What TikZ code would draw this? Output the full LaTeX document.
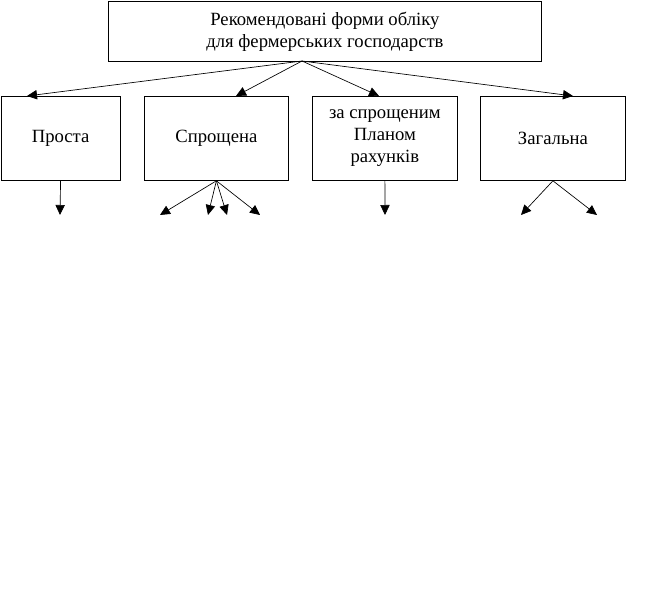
\documentclass[tikz,border=0pt]{standalone}
\usepackage{fontspec}
\setmainfont{Liberation Serif}
\usepackage{tikz}
\usetikzlibrary{arrows.meta, positioning}

\begin{document}
\begin{tikzpicture}[x=0.75pt, y=-0.75pt,
		formbox/.style={draw, line width=0.6pt, anchor=north west, minimum height=63pt,
			align=center, inner sep=0pt, font=\fontsize{14pt}{16.5pt}\selectfont},
		arr/.style={line width=0.5pt, -{Triangle[length=7.5pt, width=7pt]}}]
			\useasboundingbox (0,0) rectangle (648,588);
			\node[formbox, minimum width=324.75pt, minimum height=45pt] (top) at (108,1)
				{Рекомендовані форми обліку\\для фермерських господарств};
			\node[formbox, minimum width=89.5pt] (prosta) at (0.5,96) {Проста};
			\node[formbox, minimum width=108pt] (sproshch) at (144,96) {Спрощена};
			\node[formbox, minimum width=108.75pt] (plan) at (312,96) {за спрощеним\\Планом\\рахунків};
			\node[formbox, minimum width=108.75pt] (zag) at (480,96) {Загальна};
			% top level
			\coordinate (hub) at (302,61);
			\coordinate (t1) at (27,96);
			\coordinate (t2) at (236,96);
			\coordinate (t3) at (379,96);
			\coordinate (t4) at (573,96);
			\foreach \t in {t1, t2, t3, t4}
				\draw[arr] (hub) -- (\t);
			% lower level
			\coordinate (p1) at (60,215);
			\coordinate (s1) at (160,215);
			\coordinate (s2) at (208,215);
			\coordinate (s3) at (227,215);
			\coordinate (s4) at (260,215);
			\coordinate (r1) at (385,215);
			\coordinate (z1) at (521,215);
			\coordinate (z2) at (597,215);
			\draw[arr] (prosta.south) -- (p1);
			\foreach \s in {s1, s2, s3, s4}
				\draw[arr] (sproshch.south) -- (\s);
			\draw[arr] (plan.south) -- (r1);
			\foreach \z in {z1, z2}
				\draw[arr] (zag.south) -- (\z);
		\end{tikzpicture}
\end{document}
